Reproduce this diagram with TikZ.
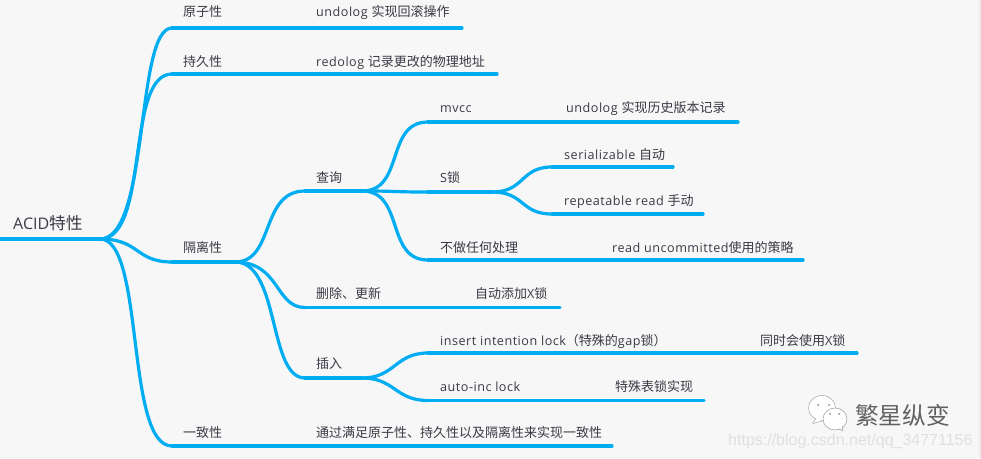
\documentclass[tikz,border=0pt]{standalone}
\usepackage{fontspec}
\setmainfont[LetterSpace=4]{Open Sans}
\newfontfamily\rootfont{Open Sans}
\newfontfamily\cjk{Noto Sans CJK SC}
\newfontfamily\wmfont{Liberation Sans}
\newcommand{\zhsize}{13}
\newcommand{\zh}[1]{{\cjk\fontsize{\zhsize}{14}\selectfont #1}}
\definecolor{bgc}{HTML}{F7F7F7}
\definecolor{strip}{HTML}{ECECEC}
\definecolor{wire}{HTML}{00ADF2}
\definecolor{ink}{HTML}{3A3A46}
\usetikzlibrary{calc}
\tikzset{
 x=1pt,y=-1pt,
 lab/.style={anchor=base west,inner sep=0pt,text=ink,font=\fontsize{12.6}{14}\selectfont},
 rootlab/.style={lab,font=\rootfont\fontsize{16}{18}\selectfont},
 wireline/.style={draw=wire,line width=3.2pt,line cap=round},
}
\begin{document}
\begin{tikzpicture}
\useasboundingbox (0,0) rectangle (981,458);
\fill[bgc] (0,0) rectangle (981,458);
\fill[strip] (979,0) rectangle (981,458);
% junctions
\coordinate (s0) at (0,239); \coordinate (r) at (100,239);
\coordinate (a1) at (172,28); \coordinate (a2) at (462,28);
\coordinate (b1) at (172,74); \coordinate (b2) at (497,74);
\coordinate (c1) at (172,262); \coordinate (c2) at (235,262);
\coordinate (d1) at (172,446); \coordinate (d2) at (612,446);
\coordinate (q1) at (305,191); \coordinate (q2) at (362,191);
\coordinate (u1) at (305,307.5); \coordinate (u2) at (560,307.5);
\coordinate (i1) at (305,378); \coordinate (i2) at (362,378);
\coordinate (m1) at (428,122); \coordinate (m2) at (738,122);
\coordinate (s1) at (428,192); \coordinate (s2) at (492,192);
\coordinate (n1) at (428,260); \coordinate (n2) at (803,260);
\coordinate (se1) at (552,167); \coordinate (se2) at (673,167);
\coordinate (re1) at (552,214); \coordinate (re2) at (703,214);
\coordinate (in1) at (428,353); \coordinate (in2) at (857,353);
\coordinate (au1) at (428,400.5); \coordinate (au2) at (704,400.5);
% wires
\draw[wireline] (s0) -- (r);
\foreach \p/\q in {a1/a2,b1/b2,c1/c2,d1/d2,q1/q2,u1/u2,i1/i2,m1/m2,s1/s2,n1/n2,se1/se2,re1/re2,in1/in2,au1/au2}{\draw[wireline] (\p) -- (\q);}
\draw[wireline] (r) .. controls (150,239) and (135,28) .. (a1);
\draw[wireline] (r) .. controls (150,239) and (125,74) .. (b1);
\draw[wireline] (r) .. controls (140,239) and (135,262) .. (c1);
\draw[wireline] (r) .. controls (145,239) and (125,446) .. (d1);
\draw[wireline] (c2) .. controls (275,262) and (260,191) .. (q1);
\draw[wireline] (c2) .. controls (280,262) and (275,307.5) .. (u1);
\draw[wireline] (c2) .. controls (280,262) and (268,378) .. (i1);
\draw[wireline] (q2) .. controls (405,191) and (385,122) .. (m1);
\draw[wireline] (q2) .. controls (400,191) and (390,192) .. (s1);
\draw[wireline] (q2) .. controls (405,191) and (385,260) .. (n1);
\draw[wireline] (s2) .. controls (525,192) and (520,167) .. (se1);
\draw[wireline] (s2) .. controls (525,192) and (520,214) .. (re1);
\draw[wireline] (i2) .. controls (395,378) and (395,353) .. (in1);
\draw[wireline] (i2) .. controls (395,378) and (395,400.5) .. (au1);
% labels
\node[rootlab] (t0) at (13,229) {ACID{\renewcommand{\zhsize}{16.7}\zh{特性}}};
\node[lab] (t1) at (183,16) {\zh{原子性}};
\node[lab] (t2) at (183,66) {\zh{持久性}};
\node[lab] (t3) at (183,252) {\zh{隔离性}};
\node[lab] (t4) at (183,437) {\zh{一致性}};
\node[lab] (t5) at (316,16) {undolog \zh{实现回滚操作}};
\node[lab] (t6) at (316,66) {redolog \zh{记录更改的物理地址}};
\node[lab] (t7) at (316,182) {\zh{查询}};
\node[lab] (t8) at (316,298) {\zh{删除、更新}};
\node[lab] (t9) at (316,368) {\zh{插入}};
\node[lab] (t10) at (316,437) {\zh{通过满足原子性、持久性以及隔离性来实现一致性}};
\node[lab] (t11) at (440,112) {mvcc};
\node[lab] (t12) at (440,182) {S\zh{锁}};
\node[lab] (t13) at (440,252) {\zh{不做任何处理}};
\node[lab] (t14) at (440,345) {insert intention lock\zh{（特殊的}gap\zh{锁）}};
\node[lab] (t15) at (440,391) {auto-inc lock};
\node[lab] (t16) at (566,112) {undolog \zh{实现历史版本记录}};
\node[lab] (t17) at (564,159) {serializable \zh{自动}};
\node[lab] (t18) at (564,205) {repeatable read \zh{手动}};
\node[lab] (t19) at (612,252) {read uncommitted\zh{使用的策略}};
\node[lab] (t20) at (475,298) {\zh{自动添加}X\zh{锁}};
\node[lab] (t21) at (760,345) {\zh{同时会使用}X\zh{锁}};
\node[lab] (t22) at (615,391) {\zh{特殊表锁实现}};
% watermark
\node[anchor=base west,inner sep=0pt,text=black!12,font=\wmfont\fontsize{16}{18}\selectfont] (w1) at (728,445) {https://blog.csdn.net/qq\_34771156};
\node[anchor=base west,inner sep=0pt,text=black!62,font=\cjk\fontsize{23.7}{26}\selectfont] (w2) at (855,424) {繁星纵变};
\filldraw[fill=white,draw=black!35,line width=.5pt] (822,408) ellipse (13.5 and 12.5);
\filldraw[fill=white,draw=black!35,line width=.5pt] (816,418) -- (813,423.5) -- (822,421);
\filldraw[fill=white,draw=black!40,line width=.5pt] (835,419) ellipse (12 and 11);
\filldraw[fill=white,draw=black!40,line width=.5pt] (839,429) -- (843,430.5) -- (842,426);
\foreach \x/\y in {818/405,829/405,830/414,839/414}{\fill[black!45] (\x,\y) circle (1);}
\end{tikzpicture}
\end{document}
